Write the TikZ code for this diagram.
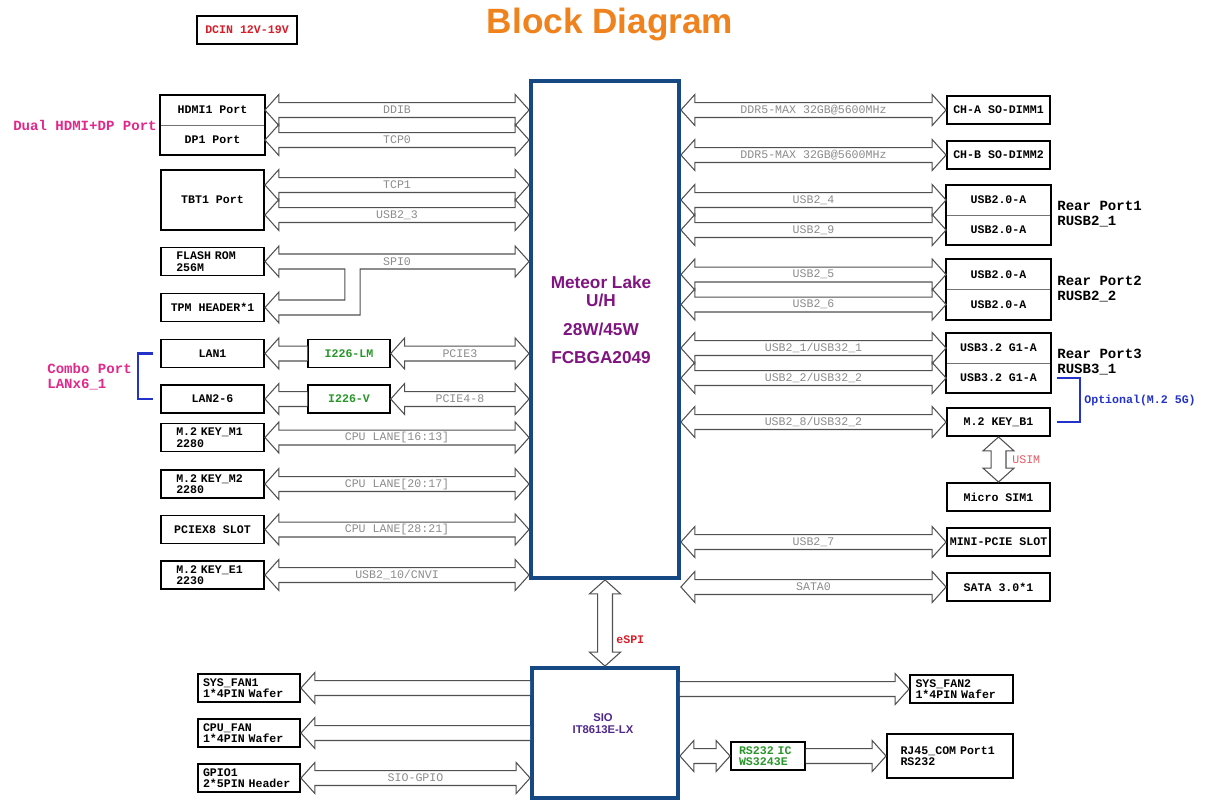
\documentclass[tikz,border=0pt]{standalone}
\usepackage{fontspec}
\setsansfont{Liberation Sans}
\newfontfamily\codefont{Liberation Mono}
\usetikzlibrary{calc}

\definecolor{cpublue}{RGB}{22,72,132}
\definecolor{busgray}{RGB}{80,80,80}
\definecolor{labelgray}{RGB}{140,140,140}
\definecolor{chippurple}{RGB}{128,20,128}
\definecolor{siopurple}{RGB}{80,40,140}
\definecolor{portmagenta}{RGB}{225,40,140}
\definecolor{dcred}{RGB}{215,30,40}
\definecolor{simred}{RGB}{230,90,100}
\definecolor{icgreen}{RGB}{40,150,40}
\definecolor{optblue}{RGB}{35,50,200}
\definecolor{titleorange}{RGB}{240,130,30}

\newcommand{\boxfnt}{\codefont\bfseries\fontsize{6.6}{6.6}\selectfont}
\newcommand{\busfnt}{\codefont\fontsize{6.6}{7}\selectfont}
\newcommand{\notefnt}{\codefont\bfseries\fontsize{8}{8.5}\selectfont}

% hollow bus arrows: head length, head half width, shaft half width
\newcommand{\busHL}{7.9pt}
\newcommand{\busHH}{8.8pt}
\newcommand{\busSW}{4.25pt}

\newcommand{\dbus}[3]{%
  \draw[busline] let \p1=#1, \p2=#2 in
    (\x1,\y1) -- ({\x1+\busHL},{\y1+\busHH}) -- ({\x1+\busHL},{\y1+\busSW})
    -- ({\x2-\busHL},{\y1+\busSW}) -- ({\x2-\busHL},{\y1+\busHH}) -- (\x2,\y1)
    -- ({\x2-\busHL},{\y1-\busHH}) -- ({\x2-\busHL},{\y1-\busSW})
    -- ({\x1+\busHL},{\y1-\busSW}) -- ({\x1+\busHL},{\y1-\busHH}) -- cycle
    ({(\x1+\x2)/2},\y1) node[buslabel] {#3};}
\newcommand{\lbus}[2]{%
  \draw[busline] let \p1=#1, \p2=#2 in
    (\x2,{\y1+\busSW}) -- ({\x1+\busHL},{\y1+\busSW}) -- ({\x1+\busHL},{\y1+\busHH}) -- (\x1,\y1)
    -- ({\x1+\busHL},{\y1-\busHH}) -- ({\x1+\busHL},{\y1-\busSW}) -- (\x2,{\y1-\busSW});}
\newcommand{\rbus}[2]{%
  \draw[busline] let \p1=#1, \p2=#2 in
    (\x1,{\y1+\busSW}) -- ({\x2-\busHL},{\y1+\busSW}) -- ({\x2-\busHL},{\y1+\busHH}) -- (\x2,\y1)
    -- ({\x2-\busHL},{\y1-\busHH}) -- ({\x2-\busHL},{\y1-\busSW}) -- (\x1,{\y1-\busSW});}
\newcommand{\vbus}[2]{%
  \draw[busline] let \p1=#1, \p2=#2 in
    (\x1,\y1) -- ({\x1+\busHH},{\y1-\busHL}) -- ({\x1+\busSW},{\y1-\busHL})
    -- ({\x1+\busSW},{\y2+\busHL}) -- ({\x1+\busHH},{\y2+\busHL}) -- (\x1,\y2)
    -- ({\x1-\busHH},{\y2+\busHL}) -- ({\x1-\busSW},{\y2+\busHL})
    -- ({\x1-\busSW},{\y1-\busHL}) -- ({\x1-\busHH},{\y1-\busHL}) -- cycle;}

\tikzset{
  blk/.style={draw, line width=1.1pt, fill=white, minimum width=2.06cm, minimum height=0.56cm, inner sep=0pt, font=\boxfnt, align=center},
  half/.style={draw=black!55, line width=0.5pt, fill=white, minimum width=2.08cm, minimum height=0.6cm, inner sep=0pt, font=\boxfnt},
  twoline/.style={text width=1.45cm, align=left},
  chip/.style={draw=cpublue, line width=2.2pt, fill=white, inner sep=0pt},
  busline/.style={draw=busgray, line width=0.6pt, fill=white},
  buslabel/.style={font=\busfnt, text=labelgray, inner sep=0pt},
  bracket/.style={draw=optblue, line width=1.2pt},
  sidenote/.style={font=\notefnt, align=left, inner sep=0pt}
}

\begin{document}
\begin{tikzpicture}[x=0.02cm, y=-0.02cm]
  \useasboundingbox (0,0) rectangle (1206,802);

  % Title
  \node[font=\sffamily\bfseries\fontsize{20}{24}\selectfont, text=titleorange] (title) at (610,24) {Block Diagram};
  \node[blk, minimum width=2.0cm, text=dcred] (dcin) at (247,30) {DCIN 12V-19V};

  % Chips
  \node[chip, minimum width=2.96cm, minimum height=9.94cm] (cpu) at (605,329.5) {};
  \node[font=\sffamily\bfseries\fontsize{9.8}{9.8}\selectfont, text=chippurple, align=center] (cputxt) at (601,320) {Meteor Lake\\U/H\\[7pt]28W/45W\\[6pt]FCBGA2049};
  \node[chip, minimum width=2.92cm, minimum height=2.6cm] (sio) at (605,733) {};
  \node[font=\sffamily\bfseries\fontsize{6.4}{6.8}\selectfont, text=siopurple, align=center] (siotxt) at (603,724) {SIO\\IT8613E-LX};

  % Left side
  \node[half] (hdmi) at (212.5,110) {HDMI1 Port};
  \node[half] (dp) at (212.5,140) {DP1 Port};
  \draw[line width=1.1pt] (hdmi.north west) rectangle (dp.south east);
  \node[blk, minimum height=1.2cm] (tbt) at (212.5,200) {TBT1 Port};
  \node[blk, twoline] (flash) at (212.5,261.5) {FLASH ROM\\256M};
  \node[blk] (tpm) at (212.5,307.5) {TPM HEADER*1};
  \node[blk] (lan1) at (212.5,353.5) {LAN1};
  \node[blk] (lan26) at (212.5,399) {LAN2-6};
  \node[blk, minimum width=1.63cm, text=icgreen] (ilm) at (349,353.5) {I226-LM};
  \node[blk, minimum width=1.63cm, text=icgreen] (iv) at (349,399) {I226-V};
  \node[blk, twoline] (m2m1) at (212.5,437.5) {M.2 KEY\_M1\\2280};
  \node[blk, twoline] (m2m2) at (212.5,484) {M.2 KEY\_M2\\2280};
  \node[blk] (pciex8) at (212.5,529.5) {PCIEX8 SLOT};
  \node[blk, twoline] (m2e1) at (212.5,575) {M.2 KEY\_E1\\2230};

  \coordinate (tbta) at ($(tbt.east)+(0,-15)$);
  \coordinate (tbtb) at ($(tbt.east)+(0,15)$);
  \dbus{(hdmi.east)}{(cpu.west |- hdmi.east)}{DDIB}
  \dbus{(dp.east)}{(cpu.west |- dp.east)}{TCP0}
  \dbus{(tbta)}{(cpu.west |- tbta)}{TCP1}
  \dbus{(tbtb)}{(cpu.west |- tbtb)}{USB2\_3}
  \draw[busline] (flash.east) -- ++(14,-15.5) -- ++(0,8) -- ($(cpu.west |- flash.east)+(-14,-7.5)$)
    -- ++(0,-8) -- (cpu.west |- flash.east) -- ++(-14,15.5) -- ++(0,-8) -- ++(-155,0)
    |- ($(tpm.east)+(14,7.5)$) -- ++(0,8) -- (tpm.east) -- ++(14,-15.5) -- ++(0,8) -- ++(66,0)
    |- ($(flash.east)+(14,7.5)$) -- ++(0,8) -- cycle;
  \node[buslabel] (spilbl) at ($(flash.east)!0.5!(cpu.west |- flash.east)$) {SPI0};
  \lbus{(lan1.east)}{(ilm.west)}
  \lbus{(lan26.east)}{(iv.west)}
  \dbus{(ilm.east)}{(cpu.west |- ilm.east)}{PCIE3}
  \dbus{(iv.east)}{(cpu.west |- iv.east)}{PCIE4-8}
  \dbus{(m2m1.east)}{(cpu.west |- m2m1.east)}{CPU LANE[16:13]}
  \dbus{(m2m2.east)}{(cpu.west |- m2m2.east)}{CPU LANE[20:17]}
  \dbus{(pciex8.east)}{(cpu.west |- pciex8.east)}{CPU LANE[28:21]}
  \dbus{(m2e1.east)}{(cpu.west |- m2e1.east)}{USB2\_10/CNVI}

  \node[sidenote, text=portmagenta, anchor=east] (dualnote) at (157,125) {Dual HDMI+DP Port};
  \node[sidenote, text=portmagenta, anchor=west] (combonote) at (47,376.5) {Combo Port\\LANx6\_1};
  \draw[bracket] ($(lan1.west)+(-7,0)$) -- ++(-15,0) |- ($(lan26.west)+(-7,0)$);

  % Right side
  \node[blk] (cha) at (998.5,110) {CH-A SO-DIMM1};
  \node[blk] (chb) at (998.5,155) {CH-B SO-DIMM2};
  \node[half] (usba1) at (998.5,200) {USB2.0-A};
  \node[half] (usba2) at (998.5,230) {USB2.0-A};
  \draw[line width=1.1pt] (usba1.north west) rectangle (usba2.south east);
  \node[half] (usbb1) at (998.5,274.5) {USB2.0-A};
  \node[half] (usbb2) at (998.5,304.5) {USB2.0-A};
  \draw[line width=1.1pt] (usbb1.north west) rectangle (usbb2.south east);
  \node[half] (u32a) at (998.5,348) {USB3.2 G1-A};
  \node[half] (u32b) at (998.5,378) {USB3.2 G1-A};
  \draw[line width=1.1pt] (u32a.north west) rectangle (u32b.south east);
  \node[blk] (m2b1) at (998.5,422) {M.2 KEY\_B1};
  \node[blk] (sim) at (998.5,497) {Micro SIM1};
  \node[blk] (minipcie) at (998.5,542) {MINI-PCIE SLOT};
  \node[blk] (sata) at (998.5,587) {SATA 3.0*1};

  \dbus{(cpu.east |- cha.west)}{(cha.west)}{DDR5-MAX 32GB@5600MHz}
  \dbus{(cpu.east |- chb.west)}{(chb.west)}{DDR5-MAX 32GB@5600MHz}
  \dbus{(cpu.east |- usba1.west)}{(usba1.west)}{USB2\_4}
  \dbus{(cpu.east |- usba2.west)}{(usba2.west)}{USB2\_9}
  \dbus{(cpu.east |- usbb1.west)}{(usbb1.west)}{USB2\_5}
  \dbus{(cpu.east |- usbb2.west)}{(usbb2.west)}{USB2\_6}
  \dbus{(cpu.east |- u32a.west)}{(u32a.west)}{USB2\_1/USB32\_1}
  \dbus{(cpu.east |- u32b.west)}{(u32b.west)}{USB2\_2/USB32\_2}
  \dbus{(cpu.east |- m2b1.west)}{(m2b1.west)}{USB2\_8/USB32\_2}
  \dbus{(cpu.east |- minipcie.west)}{(minipcie.west)}{USB2\_7}
  \dbus{(cpu.east |- sata.west)}{(sata.west)}{SATA0}
  \vbus{(m2b1.south)}{(sim.north)}
  \node[font=\busfnt, text=simred, anchor=west, inner sep=0pt] (usimlbl) at (1012,460) {USIM};

  \node[sidenote, anchor=west] (rear1) at (1057,214.5) {Rear Port1\\RUSB2\_1};
  \node[sidenote, anchor=west] (rear2) at (1057,289.5) {Rear Port2\\RUSB2\_2};
  \node[sidenote, anchor=west] (rear3) at (1057,362) {Rear Port3\\RUSB3\_1};
  \draw[bracket] ($(u32b.east)+(6,0)$) -- ++(23,0) |- ($(m2b1.east)+(6,0)$);
  \node[font=\boxfnt, text=optblue, anchor=west, inner sep=0pt] (optnote) at (1084,400) {Optional(M.2 5G)};

  % SIO
  \vbus{(cpu.south)}{(sio.north)}
  \node[font=\boxfnt, text=dcred, anchor=west, inner sep=0pt] (espilbl) at (616,640) {eSPI};
  \node[blk, minimum width=2.04cm, text width=1.84cm, align=left] (fan1) at (249,688) {SYS\_FAN1\\1*4PIN Wafer};
  \node[blk, minimum width=2.04cm, text width=1.84cm, align=left] (cpufan) at (249,733) {CPU\_FAN\\1*4PIN Wafer};
  \node[blk, minimum width=2.04cm, text width=1.84cm, align=left] (gpio) at (249,778) {GPIO1\\2*5PIN Header};
  \node[blk, text width=1.84cm, align=left] (fan2) at (961.5,689) {SYS\_FAN2\\1*4PIN Wafer};
  \node[blk, minimum width=1.48cm, text width=1.16cm, align=left, text=icgreen] (rs232) at (768,756) {RS232 IC\\WS3243E};
  \node[blk, minimum width=2.52cm, minimum height=0.88cm, text width=1.98cm, align=left] (rj45) at (950,756) {RJ45\_COM Port1\\RS232};

  \lbus{(fan1.east)}{(sio.west |- fan1.east)}
  \lbus{(cpufan.east)}{(sio.west |- cpufan.east)}
  \dbus{(gpio.east)}{(sio.west |- gpio.east)}{SIO-GPIO}
  \rbus{(sio.east |- fan2.west)}{(fan2.west)}
  \dbus{(sio.east |- rs232.west)}{(rs232.west)}{}
  \rbus{(rs232.east)}{(rj45.west)}
\end{tikzpicture}
\end{document}
